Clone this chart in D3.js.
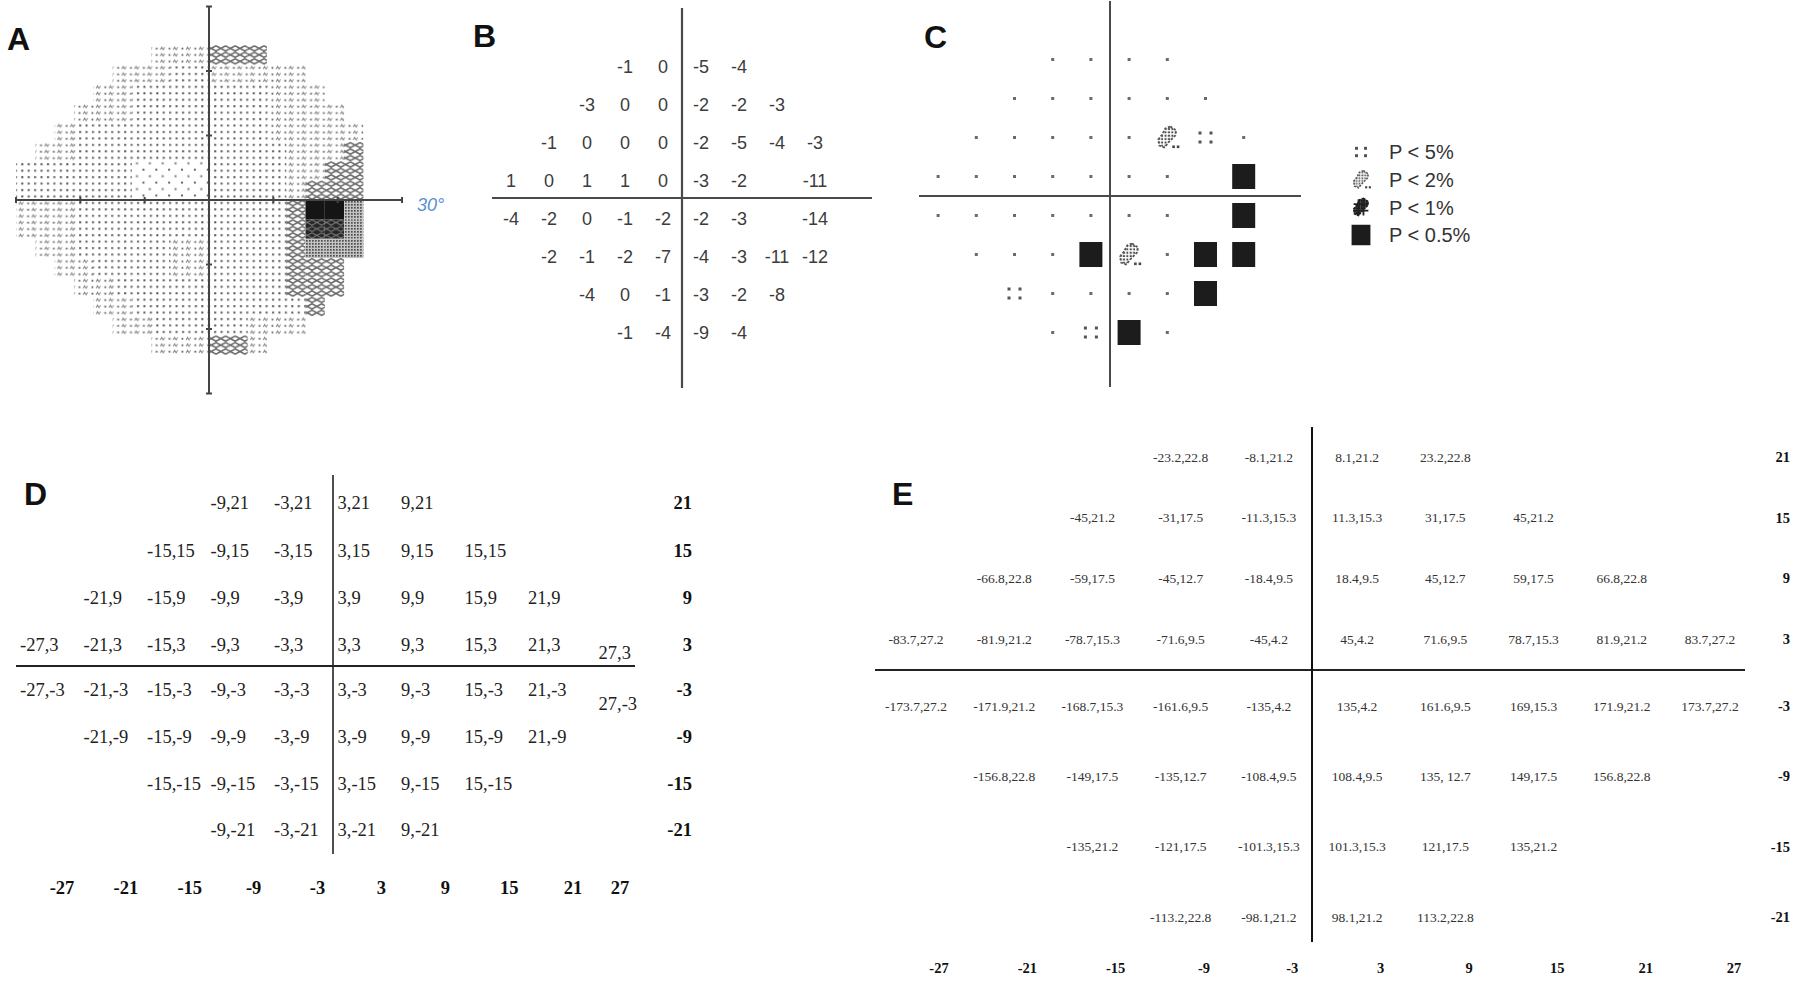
<!DOCTYPE html>
<html>
<head>
<meta charset="utf-8">
<script src="https://cdn.jsdelivr.net/npm/d3@7.9.0/dist/d3.min.js"></script>
<style>
  body { margin: 0; background: #fff; }
  svg { display: block; }
</style>
</head>
<body>
<svg id="fig" width="1800" height="981"></svg>
<script>
// ---------- data ----------

// panel A: grey scale on a 3 degree grid, 0 = lightest ... 5 = black, 6 = dark hatch, '.' = not tested
const grayColsX = [-30, -27, -24, -21, -18, -15, -12, -9, -6, -3, 0, 3, 6, 9, 12, 15, 18, 21];
const grayRowsY = [24, 21, 18, 15, 12, 9, 6, 3, 0, -3, -6, -9, -12, -15, -18, -21];
const grayLevels = [
  '.......222333.....',
  '.....2221122222...',
  '....221111111222..',
  '...22211111112222.',
  '..2111111111122222',
  '.22111111111112223',
  '111111000011112233',
  '111111000011112333',
  '222111111111113554',
  '222111111111113664',
  '.22111112211113444',
  '..221111221111333.',
  '...22111111111333.',
  '....221111111113..',
  '.....2211111222...',
  '.......222332.....'
];
const aTicks = [-30, -20, -10, 0, 10, 20, 30];

// rows of the 24-2 grid (degrees)
const rowsY = [21, 15, 9, 3, -3, -9, -15, -21];
// all test locations per row (panels D, E)
const gridX = [
  [-9, -3, 3, 9],
  [-15, -9, -3, 3, 9, 15],
  [-21, -15, -9, -3, 3, 9, 15, 21],
  [-27, -21, -15, -9, -3, 3, 9, 15, 21, 27],
  [-27, -21, -15, -9, -3, 3, 9, 15, 21, 27],
  [-21, -15, -9, -3, 3, 9, 15, 21],
  [-15, -9, -3, 3, 9, 15],
  [-9, -3, 3, 9]
];
// locations shown on the printout (panels B, C)
const printX = [
  [-9, -3, 3, 9],
  [-15, -9, -3, 3, 9, 15],
  [-21, -15, -9, -3, 3, 9, 15, 21],
  [-27, -21, -15, -9, -3, 3, 9, 21],
  [-27, -21, -15, -9, -3, 3, 9, 21],
  [-21, -15, -9, -3, 3, 9, 15, 21],
  [-15, -9, -3, 3, 9, 15],
  [-9, -3, 3, 9]
];
// panel B: pattern deviation (dB)
const patternDev = [
  [-1, 0, -5, -4],
  [-3, 0, 0, -2, -2, -3],
  [-1, 0, 0, 0, -2, -5, -4, -3],
  [1, 0, 1, 1, 0, -3, -2, -11],
  [-4, -2, 0, -1, -2, -2, -3, -14],
  [-2, -1, -2, -7, -4, -3, -11, -12],
  [-4, 0, -1, -3, -2, -8],
  [-1, -4, -9, -4]
];
// panel C: probability symbols ('.' normal, '5' p<5%, '2' p<2%, '1' p<1%, '0' p<0.5%)
const probCodes = ['....', '......', '.....25.', '.......0', '.......0', '...02.00', '5....0', '.50.'];
const legendCodes = ['5', '2', '1', '0'];
const legendLabels = ['P < 5%', 'P < 2%', 'P < 1%', 'P < 0.5%'];

// panel E: displacement values per location
const eLabels = [
  ['-23.2,22.8', '-8.1,21.2', '8.1,21.2', '23.2,22.8'],
  ['-45,21.2', '-31,17.5', '-11.3,15.3', '11.3,15.3', '31,17.5', '45,21.2'],
  ['-66.8,22.8', '-59,17.5', '-45,12.7', '-18.4,9.5', '18.4,9.5', '45,12.7', '59,17.5', '66.8,22.8'],
  ['-83.7,27.2', '-81.9,21.2', '-78.7,15.3', '-71.6,9.5', '-45,4.2', '45,4.2', '71.6,9.5', '78.7,15.3', '81.9,21.2', '83.7,27.2'],
  ['-173.7,27.2', '-171.9,21.2', '-168.7,15.3', '-161.6,9.5', '-135,4.2', '135,4.2', '161.6,9.5', '169,15.3', '171.9,21.2', '173.7,27.2'],
  ['-156.8,22.8', '-149,17.5', '-135,12.7', '-108.4,9.5', '108.4,9.5', '135, 12.7', '149,17.5', '156.8,22.8'],
  ['-135,21.2', '-121,17.5', '-101.3,15.3', '101.3,15.3', '121,17.5', '135,21.2'],
  ['-113.2,22.8', '-98.1,21.2', '98.1,21.2', '113.2,22.8']
];
const tickX = [-27, -21, -15, -9, -3, 3, 9, 15, 21, 27];

// ---------- drawing ----------
const svg = d3.select('#fig');
const sans = 'Liberation Sans, Arial, sans-serif';
const serif = 'Liberation Serif, Times New Roman, serif';

// patterns for grey scale
const defs = svg.append('defs');
function addPattern(id, w, h, draw) {
  const p = defs.append('pattern').attr('id', id)
    .attr('patternUnits', 'userSpaceOnUse').attr('width', w).attr('height', h);
  draw(p);
}
function dot(p, x, y, s, c) {
  p.append('rect').attr('x', x).attr('y', y).attr('width', s).attr('height', s).attr('fill', c);
}
addPattern('g0', 12.86, 12.9, p => { dot(p, 1, 1, 2, '#666'); dot(p, 7.4, 7.5, 2, '#777'); });
addPattern('g1', 6.43, 6.45, p => dot(p, 2, 2, 2, '#555'));
addPattern('g2', 12.86, 6.45, p => {
  dot(p, 1.5, 2.5, 1.8, '#666');
  p.append('path').attr('d', 'M6,4.6 l1.5,-2.6 l1.5,2.6 l1.5,-2.6')
    .attr('fill', 'none').attr('stroke', '#8a8a8a').attr('stroke-width', 1);
});
addPattern('g3', 9.6, 6.45, p => {
  p.append('path').attr('d', 'M0,3.2 L4.8,0.7 L9.6,3.2 L4.8,5.8 Z')
    .attr('fill', 'none').attr('stroke', '#6a6a6a').attr('stroke-width', 1.5);
});
addPattern('g4', 3, 3, p => {
  p.append('rect').attr('width', 3).attr('height', 3).attr('fill', '#c4c4c4');
  dot(p, 0, 0, 1.7, '#505050');
});
addPattern('g6', 9.6, 6.45, p => {
  p.append('rect').attr('width', 9.6).attr('height', 6.45).attr('fill', '#262626');
  p.append('path').attr('d', 'M0,3.2 L4.8,0.7 L9.6,3.2 L4.8,5.8 Z')
    .attr('fill', 'none').attr('stroke', '#7a7a7a').attr('stroke-width', 1);
});
addPattern('c2', 3.4, 3.4, p => dot(p, 0.6, 0.6, 2, '#4a4a4a'));
addPattern('c1', 3, 3, p => {
  p.append('rect').attr('width', 3).attr('height', 3).attr('fill', '#555');
  dot(p, 0, 0, 2.2, '#151515');
});

// panel letters
const letters = [
  { t: 'A', x: 7, y: 50 }, { t: 'B', x: 473, y: 47 }, { t: 'C', x: 924, y: 48 },
  { t: 'D', x: 24, y: 505 }, { t: 'E', x: 892, y: 505 }
];
svg.selectAll('text.letter').data(letters).join('text')
  .attr('class', 'letter')
  .attr('x', d => d.x).attr('y', d => d.y)
  .attr('font-family', sans).attr('font-weight', 'bold').attr('font-size', 32)
  .attr('fill', '#111').text(d => d.t);

// ---- panel A: grey scale
const gA = svg.append('g');
const ax = d3.scaleLinear().domain([-30, 30]).range([16, 402]);
const ay = d3.scaleLinear().domain([30, -30]).range([6.5, 393.5]);
const cells = [];
grayLevels.forEach((row, r) => {
  row.split('').forEach((c, i) => {
    if (c !== '.') cells.push({ x: grayColsX[i], y: grayRowsY[r], lvl: +c });
  });
});
gA.selectAll('rect').data(cells).join('rect')
  .attr('x', d => ax(d.x)).attr('y', d => ay(d.y))
  .attr('width', ax(3) - ax(0)).attr('height', ay(0) - ay(3))
  .attr('fill', d => d.lvl === 5 ? '#151515' : `url(#g${d.lvl})`);

const axisA = gA.append('g').attr('stroke', '#444').attr('stroke-width', 2);
axisA.append('line').attr('x1', ax(-30)).attr('x2', ax(30)).attr('y1', ay(0)).attr('y2', ay(0));
axisA.append('line').attr('x1', ax(0)).attr('x2', ax(0)).attr('y1', ay(30)).attr('y2', ay(-30));
axisA.selectAll('line.tx').data(aTicks).join('line').attr('class', 'tx')
  .attr('x1', d => ax(d)).attr('x2', d => ax(d)).attr('y1', ay(0) - 3).attr('y2', ay(0) + 3);
axisA.selectAll('line.ty').data(aTicks).join('line').attr('class', 'ty')
  .attr('x1', ax(0) - 3).attr('x2', ax(0) + 3).attr('y1', d => ay(d)).attr('y2', d => ay(d));
gA.append('text').attr('x', ax(30) + 15).attr('y', ay(0) + 11)
  .attr('font-family', sans).attr('font-style', 'italic').attr('font-size', 18)
  .attr('fill', '#5b8fd6').text('30°');

// ---- panel B: pattern deviation numbers
const gB = svg.append('g');
const bx = d3.scaleLinear().domain([-30, 30]).range([492, 872]);
const by = d3.scaleLinear().domain([30, -30]).range([8, 388]);
const bPts = [];
printX.forEach((xs, r) => xs.forEach((x, i) => bPts.push({ x, y: rowsY[r], v: patternDev[r][i] })));
gB.append('line').attr('x1', bx(-30)).attr('x2', bx(30)).attr('y1', by(0)).attr('y2', by(0))
  .attr('stroke', '#4a4a4a').attr('stroke-width', 2.2);
gB.append('line').attr('x1', bx(0)).attr('x2', bx(0)).attr('y1', by(30)).attr('y2', by(-30))
  .attr('stroke', '#4a4a4a').attr('stroke-width', 2.2);
gB.selectAll('text').data(bPts).join('text')
  .attr('x', d => bx(d.x)).attr('y', d => by(d.y) + 1.5).attr('dy', '0.36em')
  .attr('text-anchor', 'middle').attr('font-family', sans).attr('font-size', 18)
  .attr('fill', '#3c3c3c').text(d => d.v);

// ---- panel C: probability symbols
const gC = svg.append('g');
const cx = d3.scaleLinear().domain([-30, 30]).range([919, 1301]);
const cy = d3.scaleLinear().domain([30, -30]).range([1, 391]);
gC.append('line').attr('x1', cx(-30)).attr('x2', cx(30)).attr('y1', cy(0)).attr('y2', cy(0))
  .attr('stroke', '#4a4a4a').attr('stroke-width', 2);
gC.append('line').attr('x1', cx(0)).attr('x2', cx(0)).attr('y1', cy(30)).attr('y2', cy(-29.4))
  .attr('stroke', '#4a4a4a').attr('stroke-width', 2);

// diagonal band shape used by the p<2% and p<1% symbols
const blob = 'M3,-11 L9,-7 L8,-2 L2,4 L-3,10 L-8,8 L-9,2 L-5,-3 L-2,-9 Z';
function drawSymbol(g, code, x, y, k) {
  if (code === '.') {
    g.append('rect').attr('x', x - 1.5).attr('y', y - 1.5).attr('width', 3).attr('height', 3).attr('fill', '#6a6a6a');
  } else if (code === '5') {
    [[-1, -1], [1, -1], [-1, 1], [1, 1]].forEach(([i, j]) => {
      g.append('rect').attr('x', x + i * 5.5 * k - 1.5).attr('y', y + j * 4.5 * k - 1.5)
        .attr('width', 3).attr('height', 3).attr('fill', '#555');
    });
  } else if (code === '2' || code === '1') {
    const s = g.append('g').attr('transform', `translate(${x},${y}) scale(${k})`);
    s.append('path').attr('d', blob)
      .attr('fill', code === '2' ? 'url(#c2)' : 'url(#c1)')
      .attr('stroke', code === '2' ? '#555' : '#1a1a1a').attr('stroke-width', 1.8)
      .attr('stroke-dasharray', code === '2' ? '2.4,1.6' : '3,1');
    if (code === '2') {
      s.append('rect').attr('x', 5).attr('y', 8).attr('width', 2.6).attr('height', 2.6).attr('fill', '#444');
      s.append('rect').attr('x', 9.5).attr('y', 8).attr('width', 2.6).attr('height', 2.6).attr('fill', '#444');
    } else {
      s.append('path').attr('d', 'M-9,-4 L9,-4 M-9,4 L9,4 M-3,-10 L-3,10 M3,-10 L3,10')
        .attr('stroke', '#222').attr('stroke-width', 2.2);
    }
  } else {
    const w = 23 * k, h = 25 * k;
    g.append('rect').attr('x', x - w / 2).attr('y', y - h / 2).attr('width', w).attr('height', h).attr('fill', '#1c1c1c');
  }
}
printX.forEach((xs, r) => xs.forEach((x, i) => drawSymbol(gC, probCodes[r][i], cx(x), cy(rowsY[r]), 1)));

// legend
const legY = d3.scalePoint().domain(legendLabels).range([152, 235]);
legendCodes.forEach((c, i) => drawSymbol(gC, c, 1361, legY(legendLabels[i]), 0.82));
gC.selectAll('text.leg').data(legendLabels).join('text').attr('class', 'leg')
  .attr('x', 1389).attr('y', d => legY(d)).attr('dy', '0.36em')
  .attr('font-family', sans).attr('font-size', 20).attr('fill', '#333').text(d => d);

// ---- panel D: coordinates table
const gD = svg.append('g');
const dxL = d3.scaleLinear().domain([-27, 27]).range([20, 591.5]);
const dyS = d3.scaleLinear().domain([21, 3, -3, -21]).range([503, 645, 690, 830]);
const dTick = d3.scaleLinear().domain([-27, 21, 27]).range([62, 573, 620]);
const dPts = [];
gridX.forEach((xs, r) => xs.forEach(x => dPts.push({ x, y: rowsY[r] })));
gD.append('line').attr('x1', 16).attr('x2', 635).attr('y1', 666).attr('y2', 666)
  .attr('stroke', '#222').attr('stroke-width', 1.8);
gD.append('line').attr('x1', 333).attr('x2', 333).attr('y1', 475).attr('y2', 854)
  .attr('stroke', '#222').attr('stroke-width', 1.6);
gD.selectAll('text.pt').data(dPts).join('text').attr('class', 'pt')
  .attr('x', d => dxL(d.x) + (d.x === 27 ? 7 : 0)).attr('y', d => dyS(d.y))
  .attr('dy', d => d.x === 27 ? (d.y > 0 ? '0.78em' : '1.1em') : '0.35em')
  .attr('font-family', serif).attr('font-size', 18.5).attr('fill', '#222')
  .text(d => `${d.x},${d.y}`);
gD.selectAll('text.ry').data(rowsY).join('text').attr('class', 'ry')
  .attr('x', 692).attr('y', d => dyS(d)).attr('dy', '0.35em').attr('text-anchor', 'end')
  .attr('font-family', serif).attr('font-weight', 'bold').attr('font-size', 18.5).attr('fill', '#111')
  .text(d => d);
gD.selectAll('text.bx').data(tickX).join('text').attr('class', 'bx')
  .attr('x', d => dTick(d)).attr('y', 888).attr('dy', '0.35em').attr('text-anchor', 'middle')
  .attr('font-family', serif).attr('font-weight', 'bold').attr('font-size', 18.5).attr('fill', '#111')
  .text(d => d);

// ---- panel E: converted values
const gE = svg.append('g');
const ex = d3.scaleLinear().domain([-27, 27]).range([916, 1710]);
const eyS = d3.scaleLinear().domain([21, 3, -3, -21]).range([457, 639, 706, 917]);
const eTick = d3.scaleLinear().domain([-27, 27]).range([939, 1734]);
const ePts = [];
gridX.forEach((xs, r) => xs.forEach((x, i) => ePts.push({ x, y: rowsY[r], t: eLabels[r][i] })));
gE.append('line').attr('x1', 875).attr('x2', 1745).attr('y1', 670).attr('y2', 670)
  .attr('stroke', '#222').attr('stroke-width', 2);
gE.append('line').attr('x1', 1312).attr('x2', 1312).attr('y1', 427).attr('y2', 942)
  .attr('stroke', '#111').attr('stroke-width', 2);
gE.selectAll('text.pt').data(ePts).join('text').attr('class', 'pt')
  .attr('x', d => ex(d.x)).attr('y', d => eyS(d.y)).attr('dy', '0.35em').attr('text-anchor', 'middle')
  .attr('font-family', serif).attr('font-size', 13.5).attr('fill', '#333')
  .text(d => d.t);
gE.selectAll('text.ry').data(rowsY).join('text').attr('class', 'ry')
  .attr('x', 1790).attr('y', d => eyS(d)).attr('dy', '0.35em').attr('text-anchor', 'end')
  .attr('font-family', serif).attr('font-weight', 'bold').attr('font-size', 14.5).attr('fill', '#111')
  .text(d => d);
gE.selectAll('text.bx').data(tickX).join('text').attr('class', 'bx')
  .attr('x', d => eTick(d)).attr('y', 968).attr('dy', '0.35em').attr('text-anchor', 'middle')
  .attr('font-family', serif).attr('font-weight', 'bold').attr('font-size', 14.5).attr('fill', '#111')
  .text(d => d);
</script>
</body>
</html>
